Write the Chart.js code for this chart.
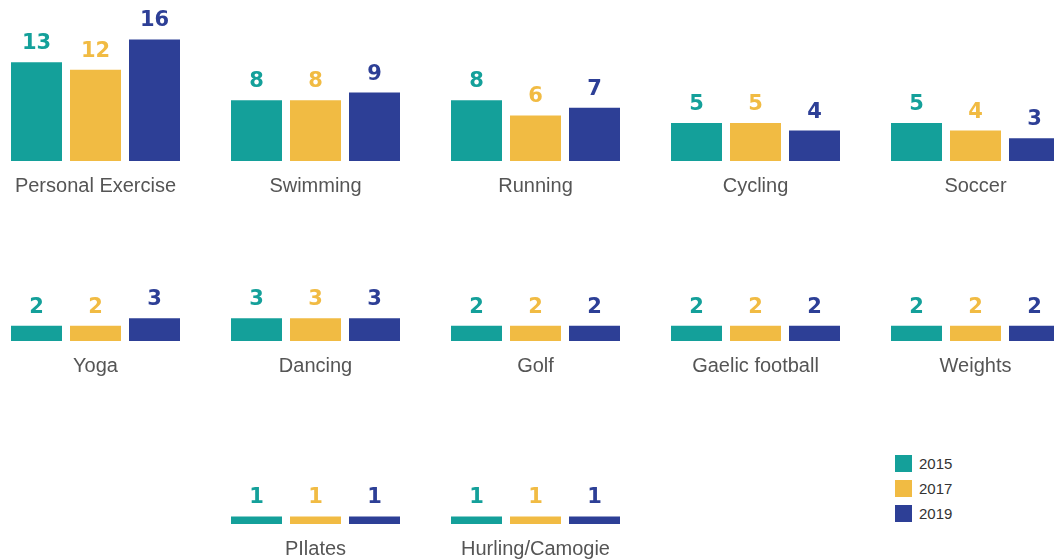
<!DOCTYPE html>
<html lang="en">
<head>
<meta charset="UTF-8" />
<title>Sports participation</title>
<script src="https://cdn.jsdelivr.net/npm/chart.js@4.4.1/dist/chart.umd.min.js"></script>
<style>
  html, body { margin: 0; padding: 0; background: #fff; overflow: hidden; }
  body { width: 1054px; height: 560px; position: relative; }
  .panel { position: absolute; }
  #legend { position: absolute; left: 895px; top: 455px; font: 15px "Liberation Sans", Arial, sans-serif; color: #333; }
  #legend div { height: 25px; display: flex; align-items: flex-start; }
  #legend span.box { width: 17px; height: 17px; display: inline-block; margin-right: 7px; }
  #legend span.txt { line-height: 17px; }
</style>
</head>
<body>
<div id="legend"></div>
<script>
const categories = ['Personal Exercise', 'Swimming', 'Running', 'Cycling', 'Soccer',
                    'Yoga', 'Dancing', 'Golf', 'Gaelic football', 'Weights',
                    'PIlates', 'Hurling/Camogie'];
const years = ['2015', '2017', '2019'];
const v2015 = [13, 8, 8, 5, 5, 2, 3, 2, 2, 2, 1, 1];
const v2017 = [12, 8, 6, 5, 4, 2, 3, 2, 2, 2, 1, 1];
const v2019 = [16, 9, 7, 4, 3, 3, 3, 2, 2, 2, 1, 1];
const colors = ['#14a09a', '#f1bb43', '#2d3f96'];

// grid slot for each panel: [column, row]
const slots = [[0,0],[1,0],[2,0],[3,0],[4,0],[0,1],[1,1],[2,1],[3,1],[4,1],[1,2],[2,2]];
const baselines = [161, 341, 524];
const padTop = 20, plotH = 152, axisH = 50, panelW = 191;

const valueLabels = {
  id: 'valueLabels',
  afterDatasetsDraw(chart) {
    const ctx = chart.ctx;
    ctx.save();
    ctx.font = 'bold 21px "DejaVu Sans", sans-serif';
    ctx.textAlign = 'center';
    ctx.textBaseline = 'alphabetic';
    chart.data.datasets.forEach((ds, i) => {
      chart.getDatasetMeta(i).data.forEach((bar, j) => {
        ctx.fillStyle = ds.backgroundColor;
        ctx.fillText(ds.data[j], bar.x, bar.y - 13);
      });
    });
    ctx.restore();
  }
};

const series = [v2015, v2017, v2019];
categories.forEach((cat, i) => {
  const [col, row] = slots[i];
  const canvas = document.createElement('canvas');
  canvas.className = 'panel';
  canvas.width = panelW;
  canvas.height = padTop + plotH + axisH;
  canvas.style.left = (220 * col) + 'px';
  canvas.style.top = (baselines[row] - plotH - padTop) + 'px';
  document.body.appendChild(canvas);
  new Chart(canvas.getContext('2d'), {
    type: 'bar',
    data: {
      labels: [cat],
      datasets: years.map((y, k) => ({
        label: y,
        data: [series[k][i]],
        backgroundColor: colors[k],
        categoryPercentage: 177 / 191,
        barPercentage: 51 / 59
      }))
    },
    options: {
      responsive: false,
      animation: false,
      layout: { padding: { top: padTop, left: 0, right: 0, bottom: 0 } },
      plugins: { legend: { display: false }, tooltip: { enabled: false } },
      scales: {
        x: {
          grid: { display: false },
          border: { display: false },
          ticks: { color: '#555', font: { family: '"Liberation Sans", Arial, sans-serif', size: 20 }, padding: 5, maxRotation: 0 },
          afterFit: (s) => { s.height = axisH; }
        },
        y: { display: false, min: 0, max: 20 }
      }
    },
    plugins: [valueLabels]
  });
});

const legend = document.getElementById('legend');
years.forEach((y, k) => {
  const row = document.createElement('div');
  row.innerHTML = '<span class="box" style="background:' + colors[k] + '"></span><span class="txt">' + y + '</span>';
  legend.appendChild(row);
});
</script>
</body>
</html>
